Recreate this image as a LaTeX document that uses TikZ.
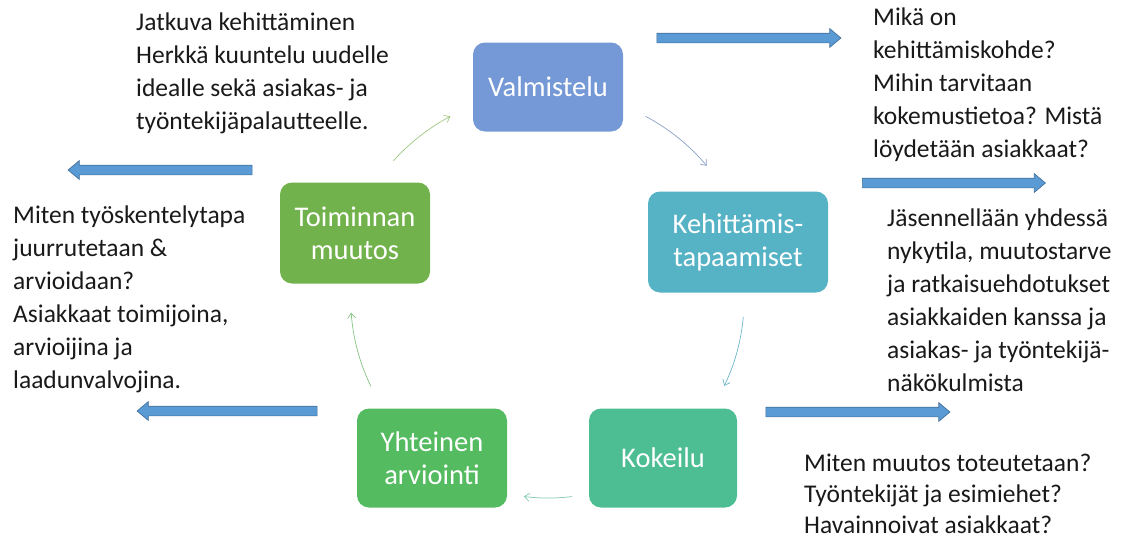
\documentclass[tikz,border=0pt]{standalone}
\usepackage{fontspec}
\setmainfont{Carlito}
\definecolor{boxblue}{RGB}{117,152,214}
\definecolor{boxteal}{RGB}{86,178,197}
\definecolor{boxmint}{RGB}{77,190,148}
\definecolor{boxgreen}{RGB}{84,187,96}
\definecolor{boxleaf}{RGB}{114,178,76}
\definecolor{arrowfill}{RGB}{91,155,213}
\definecolor{arrowline}{RGB}{65,113,156}
\definecolor{textdark}{RGB}{25,25,25}
\usetikzlibrary{arrows.meta,positioning,shapes.arrows}

\begin{document}
\begin{tikzpicture}[
  x=1pt,y=1pt,
  phase/.style={rounded corners=12pt,text=white,align=center,
    font=\fontsize{28.5}{33}\selectfont,minimum width=150pt,minimum height=99pt,inner sep=0pt},
  note/.style={anchor=north west,align=left,inner sep=0pt,text=textdark,
    font=\fontsize{25.5}{33}\selectfont},
  bigarrow/.style={single arrow,draw=arrowline,fill=arrowfill,line width=0.7pt,
    inner sep=4.5pt,single arrow head extend=4.5pt,single arrow tip angle=80,
    minimum height=#1},
  cycle/.style={line width=0.7pt,-{Straight Barb[length=5pt,width=8pt]}}
]
  \useasboundingbox (0,0) rectangle (1122,-541);
  % Phases
  \node[phase,fill=boxblue,minimum height=89pt] (valm) at (548,-87) {Valmistelu};
  \node[phase,fill=boxteal,minimum width=180pt,minimum height=101pt] (kehi) at (738,-242) {Kehittämis-\\tapaamiset};
  \node[phase,fill=boxmint,minimum width=148pt] (koke) at (663,-458) {Kokeilu};
  \node[phase,fill=boxgreen] (yhte) at (432,-458) {Yhteinen\\arviointi};
  \node[phase,fill=boxleaf,minimum height=101pt] (toim) at (355,-233) {Toiminnan\\muutos};

  % Cycle between phases
  \coordinate (ctr) at (548,-300);
  \draw[cycle,color={rgb,255:red,160;green,200;blue,130}] (ctr) ++(138:208) arc[start angle=138,end angle=118,radius=208];
  \draw[cycle,color={rgb,255:red,140;green,160;blue,200}] (ctr) ++(62:208) arc[start angle=62,end angle=40,radius=206];
  \draw[cycle,color={rgb,255:red,110;green,180;blue,200}] (ctr) ++(-5:196) arc[start angle=-5,end angle=-26,radius=196];
  \draw[cycle,color={rgb,255:red,130;green,200;blue,180}] (ctr) ++(-83:198) arc[start angle=-83,end angle=-97,radius=198];
  \draw[cycle,color={rgb,255:red,130;green,195;blue,130}] (ctr) ++(206:197) arc[start angle=206,end angle=184,radius=200];

  % Pointers to the notes
  \node[bigarrow=184pt] (nuoli1) at (746,-38) {};
  \node[bigarrow=183pt] (nuoli2) at (951,-183) {};
  \node[bigarrow=184pt,shape border rotate=180] (nuoli3) at (163,-170) {};
  \node[bigarrow=180pt,shape border rotate=180] (nuoli4) at (230,-411) {};
  \node[bigarrow=184pt] (nuoli5) at (855,-412) {};

  % Notes
  \node[note] (jatkuva) at (136,-13) {Jatkuva kehittäminen\\Herkkä kuuntelu uudelle\\idealle sekä asiakas- ja\\työntekijäpalautteelle.};
  \node[note] (mika) at (873,-8) {Mikä on\\kehittämiskohde?\\Mihin tarvitaan\\kokemustietoa? Mistä\\löydetään asiakkaat?};
  \node[note] (jasen) at (887,-209) {Jäsennellään yhdessä\\nykytila, muutostarve\\ja ratkaisuehdotukset\\asiakkaiden kanssa ja\\asiakas- ja työntekijä-\\näkökulmista};
  \node[note,font=\fontsize{25.5}{31}\selectfont] (toteutus) at (804,-454) {Miten muutos toteutetaan?\\Työntekijät ja esimiehet?\\Havainnoivat asiakkaat?};
  \node[note] (juurrutus) at (13,-206) {Miten työskentelytapa\\juurrutetaan \&\\arvioidaan?\\Asiakkaat toimijoina,\\arvioijina ja\\laadunvalvojina.};
\end{tikzpicture}
\end{document}
